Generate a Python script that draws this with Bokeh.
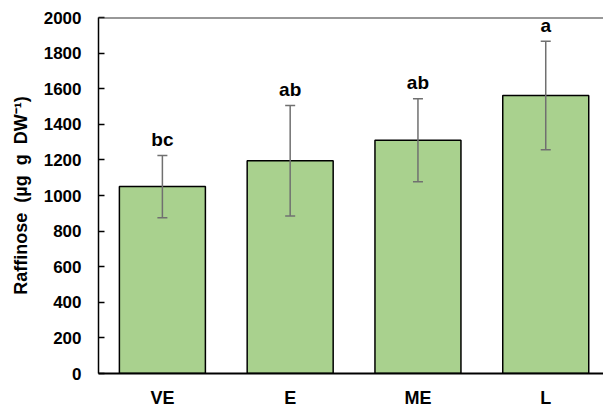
from bokeh.plotting import figure
from bokeh.models import Range1d, FixedTicker, ColumnDataSource, Whisker, TeeHead, Span
from bokeh.embed import file_html
from bokeh.resources import INLINE
from bokeh.core.properties import value

categories = ["VE", "E", "ME", "L"]
means = [1050, 1195, 1310, 1562]
errors = [175, 310, 233, 305]
letters = ["bc", "ab", "ab", "a"]
y_ticks = [0, 200, 400, 600, 800, 1000, 1200, 1400, 1600, 1800, 2000]

FONT = "Liberation Sans"
x = [i + 0.5 for i in range(len(categories))]
src = ColumnDataSource(dict(
    x=x, mean=means,
    upper=[m + e for m, e in zip(means, errors)],
    lower=[m - e for m, e in zip(means, errors)],
    letter=letters,
))

p = figure(width=603, height=412, output_backend="svg", toolbar_location=None,
           title=None, x_range=Range1d(0, 3.952), y_range=Range1d(0, 2000),
           min_border_left=98, min_border_right=0, min_border_top=17, min_border_bottom=39)
p.outline_line_color = None
p.grid.visible = False
p.background_fill_color = "white"

p.vbar(x="x", top="mean", bottom=0, width=0.673, source=src,
       fill_color="#A9D18E", line_color="black", line_width=1.5)

err_color = "#707070"
p.add_layout(Whisker(base="x", upper="upper", lower="lower", source=src,
                     line_color=err_color, line_width=1.5, level="overlay",
                     upper_head=TeeHead(size=10, line_color=err_color, line_width=1.5),
                     lower_head=TeeHead(size=10, line_color=err_color, line_width=1.5)))

p.text(x="x", y="upper", text="letter", source=src, text_align="center",
       text_baseline="alphabetic", y_offset=-16, text_font=value(FONT),
       text_font_style="bold", text_font_size="19px", text_color="black")

p.add_layout(Span(location=2000, dimension="width", line_color="#333333", line_width=2))

ya = p.yaxis[0]
ya.ticker = FixedTicker(ticks=y_ticks)
ya.major_tick_in = 6
ya.major_tick_out = 0
ya.minor_tick_line_color = None
ya.major_label_standoff = 17
ya.major_label_text_font = FONT
ya.major_label_text_font_style = "bold"
ya.major_label_text_font_size = "17px"
ya.major_label_text_color = "black"
ya.axis_line_color = "black"
ya.axis_line_width = 1.5
ya.major_tick_line_width = 1.5
ya.axis_label = "Raffinose\u00a0\u00a0(\u00b5g\u00a0\u00a0g\u00a0\u00a0DW\u207b\u00b9)"
ya.axis_label_text_font = FONT
ya.axis_label_text_font_style = "bold"
ya.axis_label_text_font_size = "18px"
ya.axis_label_text_color = "black"
ya.axis_label_standoff = 10

xa = p.xaxis[0]
xa.ticker = FixedTicker(ticks=x)
xa.major_label_overrides = {xv: c for xv, c in zip(x, categories)}
xa.major_tick_in = 0
xa.major_tick_out = 0
xa.minor_tick_line_color = None
xa.major_label_standoff = 14
xa.major_label_text_font = FONT
xa.major_label_text_font_style = "bold"
xa.major_label_text_font_size = "18px"
xa.major_label_text_color = "black"
xa.axis_line_color = "black"
xa.axis_line_width = 2

open("out.html", "w").write(file_html(p, INLINE))
